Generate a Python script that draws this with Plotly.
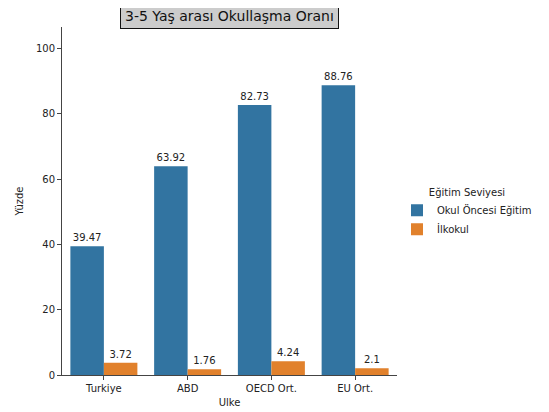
import plotly.graph_objects as go

countries = ["Turkiye", "ABD", "OECD Ort.", "EU Ort."]
okul_oncesi = [39.47, 63.92, 82.73, 88.76]
ilkokul = [3.72, 1.76, 4.24, 2.1]
series_names = ["Okul Öncesi Eğitim", "İlkokul"]
y_ticks = [0, 20, 40, 60, 80, 100]

font_family = "DejaVu Sans"
fig = go.Figure()
for name, vals, color in [(series_names[0], okul_oncesi, "#3274a1"),
                          (series_names[1], ilkokul, "#e1812c")]:
    fig.add_trace(go.Bar(
        x=countries, y=vals, name=name,
        marker=dict(color=color, line=dict(width=0)),
        text=[f"{v:g}" for v in vals], textposition="outside",
        textfont=dict(size=10, color="#222"), cliponaxis=False,
    ))

# page body adds an 8px margin, so the figure is sized to fit the window
fig.update_layout(
    width=541, height=404,
    barmode="group", bargap=0.2, bargroupgap=0,
    plot_bgcolor="white", paper_bgcolor="white",
    margin=dict(l=54, r=152, t=19, b=37, autoexpand=False),
    font=dict(family=font_family, size=10, color="#222"),
    showlegend=True,
    legend=dict(
        title=dict(text="Eğitim Seviyesi", font=dict(size=10), side="top center"),
        x=1.0, xanchor="left", y=0.465, yanchor="middle",
        font=dict(size=10), tracegroupgap=0,
    ),
)
fig.update_xaxes(
    range=[-0.5, 3.5], showline=True, linecolor="#444", linewidth=1,
    ticks="outside", ticklen=4, tickcolor="#444",
    title=dict(text="Ulke", font=dict(size=10), standoff=5),
    showgrid=False,
)
fig.update_yaxes(
    range=[0, 106.6], tickvals=y_ticks, showline=True, linecolor="#444", linewidth=1,
    ticks="outside", ticklen=4, tickcolor="#444",
    title=dict(text="Yüzde", font=dict(size=10), standoff=10),
    showgrid=False, zeroline=False,
)
fig.add_annotation(
    text="3-5 Yaş arası Okullaşma Oranı", xref="paper", yref="paper",
    x=0.5, y=1.0, yshift=11, xanchor="center", yanchor="middle",
    showarrow=False, font=dict(size=14, color="#111"),
    bgcolor="#cccccc", bordercolor="#111", borderwidth=1, borderpad=4,
)
fig.write_html("out.html")
